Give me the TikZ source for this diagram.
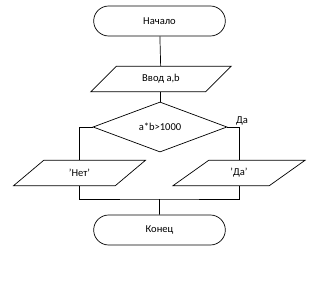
\documentclass[tikz,border=0pt]{standalone}
\usepackage{fontspec}
\setmainfont{Carlito}
\usetikzlibrary{positioning}
\usetikzlibrary{shapes.misc}
\usetikzlibrary{shapes.geometric}

\begin{document}
\begin{tikzpicture}[x=0.03cm, y=-0.03cm, font=\fontsize{9}{11}\selectfont,
    terminal/.style={draw, rounded rectangle, minimum width=4.02cm, minimum height=0.9cm, inner sep=1pt},
    io/.style={draw, trapezium, trapezium left angle=45, trapezium right angle=135, trapezium stretches=true, minimum height=0.76cm, inner sep=1pt},
    decision/.style={draw, diamond, minimum width=4.02cm, minimum height=1.35cm, inner sep=0pt},
    line/.style={line width=0.6pt}]
    \useasboundingbox (0,0) rectangle (316,283);

    % Blocks
    \node[terminal, line] (start) at (159.5, 21) {Начало};
    \node[io, line, minimum width=4.23cm] (input) at (161, 79) {Ввод a,b};
    \node[decision, line] (check) at (160, 127) {a*b>1000};
    \node[io, line, minimum width=3.96cm] (outno) at (79.5, 173) {'Нет'};
    \node[io, line, minimum width=3.96cm] (outyes) at (239, 173) {'Да'};
    \node[terminal, line] (stop) at (159.5, 230) {Конец};
    \node (lblyes) at (242, 121) {Да};
    \coordinate (merge) at (159.5, 199);

    % Connectors
    \draw[line] (start) -- (input);
    \draw[line] (input.south -| check.north) -- (check);
    \draw[line] (check.west) -| (outno);
    \draw[line] (check.east) -| (outyes);
    \draw[line] (outno.south) |- (merge) -| (outyes.south);
    \draw[line] (merge) -- (stop);
\end{tikzpicture}
\end{document}
